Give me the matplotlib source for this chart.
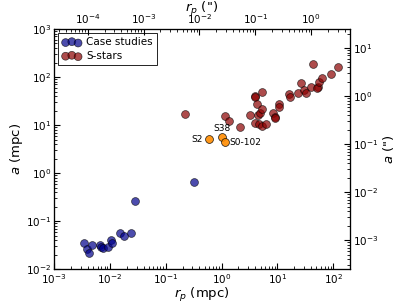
import matplotlib
matplotlib.use("Agg")
import matplotlib.pyplot as plt

# conversion mpc -> arcsec at the Galactic Centre
mpc_per_arcsec = 40.2

# case studies (blue)
case_rp = [0.00338, 0.00383, 0.00427, 0.00471, 0.00664, 0.0069, 0.0074, 0.0091,
           0.0103, 0.011, 0.0152, 0.0182, 0.0243, 0.0279, 0.326]
case_a = [0.036, 0.0265, 0.0219, 0.0316, 0.0327, 0.0292, 0.0283, 0.0292,
          0.0402, 0.0353, 0.057, 0.0487, 0.057, 0.265, 0.659]

# S-stars (red)
s_rp = [0.224, 1.14, 1.37, 2.1, 3.27, 4.02, 4.05, 4.02, 4.37, 4.48, 4.75, 4.95,
        5.37, 5.37, 5.22, 6.34, 8.34, 8.94, 8.9, 10.7, 10.9, 16.4, 17.1, 23.2,
        27.0, 29.4, 33.2, 39.7, 42.6, 53.0, 52.0, 56.0, 63.4, 89.8, 120.0]
s_a = [16.9, 15.4, 12.3, 8.96, 16.4, 40.2, 39.0, 11.2, 27.0, 16.2, 10.3, 18.0,
       49.4, 21.5, 9.7, 10.8, 18.0, 14.5, 14.0, 27.0, 23.7, 44.2, 38.9, 45.7,
       75.0, 53.6, 46.4, 61.0, 190.0, 62.0, 60.0, 80.0, 93.8, 115.0, 162.0]

# highlighted stars (orange)
hl_names = ["S2", "S38", "S0-102"]
hl_rp = [0.589, 1.02, 1.14]
hl_a = [5.1, 5.7, 4.4]

plt.rcParams["font.family"] = "DejaVu Sans"
plt.rcParams["mathtext.fontset"] = "dejavusans"

fig = plt.figure(figsize=(4.07, 3.05), dpi=100)
ax = fig.add_axes([0.133, 0.117, 0.727, 0.788])

ms = 32
ax.scatter(case_rp, case_a, s=ms, c="darkblue", alpha=0.7, edgecolors="k",
           linewidths=0.5, label="Case studies", zorder=3)
ax.scatter(s_rp, s_a, s=ms, c="darkred", alpha=0.7, edgecolors="k",
           linewidths=0.5, label="S-stars", zorder=3)
ax.scatter(hl_rp, hl_a, s=ms, c="darkorange", alpha=0.9, edgecolors="k",
           linewidths=0.5, zorder=4)

ax.annotate("S2", (hl_rp[0], hl_a[0]), xytext=(-4, 0), textcoords="offset points",
            fontsize=6.5, ha="right", va="center")
ax.annotate("S38", (hl_rp[1], hl_a[1]), xytext=(0, 3), textcoords="offset points",
            fontsize=6.5, ha="center", va="bottom")
ax.annotate("S0-102", (hl_rp[2], hl_a[2]), xytext=(3, 0), textcoords="offset points",
            fontsize=6.5, ha="left", va="center")

ax.set_xscale("log")
ax.set_yscale("log")
xlim = (1e-3, 2e2)
ylim = (1e-2, 1e3)
ax.set_xlim(xlim)
ax.set_ylim(ylim)
ax.set_xlabel("$r_p$ (mpc)", fontsize=9.5, labelpad=0)
ax.set_ylabel("$a$ (mpc)", fontsize=9.5, labelpad=1)
ax.tick_params(which="both", direction="in", labelsize=7.5, pad=2)
ax.tick_params(which="major", length=4)
ax.tick_params(which="minor", length=2)

# arcsec axes
axt = ax.twiny()
axt.set_xscale("log")
axt.set_xlim(xlim[0] / mpc_per_arcsec, xlim[1] / mpc_per_arcsec)
axt.set_xlabel('$r_p$ (")', fontsize=9.5, labelpad=0)
axt.tick_params(which="both", direction="in", labelsize=7.5, pad=2)
axt.tick_params(which="major", length=4)
axt.tick_params(which="minor", length=2)

axr = ax.twinx()
axr.set_yscale("log")
axr.set_ylim(ylim[0] / mpc_per_arcsec, ylim[1] / mpc_per_arcsec)
axr.set_ylabel('$a$ (")', fontsize=9.5, labelpad=2)
axr.tick_params(which="both", direction="in", labelsize=7.5, pad=2)
axr.tick_params(which="major", length=4)
axr.tick_params(which="minor", length=2)

leg = ax.legend(loc="upper left", scatterpoints=3, scatteryoffsets=[0.375, 0.5, 0.3125],
                fontsize=7.5, fancybox=False, edgecolor="k", framealpha=1,
                borderaxespad=0.4, handletextpad=0.5, labelspacing=0.35,
                handlelength=1.8, borderpad=0.4)
leg.get_frame().set_linewidth(0.6)

fig.savefig("out.png", dpi=100)
